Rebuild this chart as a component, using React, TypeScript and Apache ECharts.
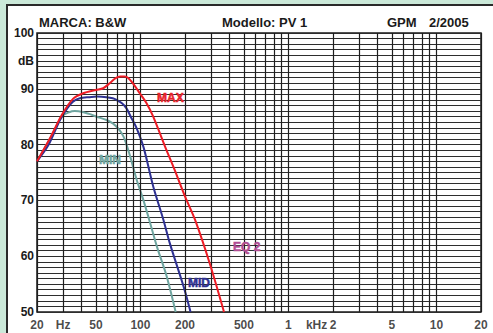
import React, { useEffect, useRef } from "react";
import * as echarts from "echarts";

// ---- data ----
const maxFreq = [20, 25, 29.4, 35, 41, 50, 56, 62, 68, 73, 78, 83, 90, 99, 110, 122, 150, 170, 200, 234, 294, 367];
const maxDb = [77, 81.6, 85.3, 88.2, 89.2, 89.8, 90.1, 91.0, 91.9, 92.2, 92.2, 91.9, 90.8, 89.2, 87.4, 85.0, 79.0, 75.5, 70.7, 66.5, 58.7, 50];

const midFreq = [20, 24, 28.6, 32, 35, 39, 45, 51, 59, 65, 69, 75, 80.5, 86, 94, 105, 122, 143, 158, 196, 218];
const midDb = [77, 80, 84.4, 86.5, 87.7, 88.3, 88.5, 88.6, 88.5, 88.3, 88.0, 87.4, 86.5, 85.0, 83.0, 79.5, 72.5, 66.5, 62.3, 54.5, 50];

const minFreq = [20, 25, 29.4, 33, 36, 40, 45, 50.6, 59, 65, 69, 74, 78.6, 85.4, 94.3, 104.6, 114.7, 130, 150, 173];
const minDb = [77, 81.5, 85.0, 85.8, 86.0, 85.9, 85.5, 85.0, 84.4, 83.8, 83.2, 82.2, 80.8, 77.8, 73.7, 70.1, 66.5, 61.5, 56.5, 50];

const gridFreqs = [
  20, 30, 40, 50, 60, 70, 80, 90, 100,
  200, 300, 400, 500, 600, 700, 800, 900, 1000,
  2000, 3000, 4000, 5000, 6000, 7000, 8000, 9000, 10000, 20000,
];
const xTickFreqs = [20, 30, 50, 100, 200, 500, 1000, 1550, 2000, 5000, 10000, 20000];
const xTickLabels = ["20", "Hz", "50", "100", "200", "500", "1", "kHz", "2", "5", "10", "20"];

const FONT = "'Liberation Sans', Arial, Helvetica, sans-serif";

const zip = (xs: number[], ys: number[]) => xs.map((x, i) => [x, ys[i]]);

export default function App() {
  const ref = useRef<HTMLDivElement>(null);
  useEffect(() => {
    const chart = echarts.init(ref.current!, undefined, { renderer: "svg" });
    const txt = (text: string, x: number, y: number, fill: string, size: number, align = "left", stroke = 0) => ({
      type: "text",
      x,
      y,
      z: 100,
      style: {
        text,
        fill,
        fontSize: size,
        fontWeight: "bold",
        fontFamily: FONT,
        textAlign: align,
        verticalAlign: "middle",
        stroke: stroke ? fill : undefined,
        lineWidth: stroke,
      },
    });
    chart.setOption({
      animation: false,
      backgroundColor: "#cbe9d9",
      graphic: [
        {
          type: "rect",
          z: -10,
          shape: { x: 7, y: 5, width: 540, height: 380 },
          style: { fill: "#ffffff", stroke: "#2a2a2a", lineWidth: 2 },
        },
        txt("MARCA: B&W", 39, 22, "#1a1a1a", 13),
        txt("Modello: PV 1", 222, 22, "#1a1a1a", 13),
        txt("GPM", 387, 22, "#1a1a1a", 13),
        txt("2/2005", 429, 22, "#1a1a1a", 13),
        txt("MAX", 157, 98, "#e8232a", 12, "left", 0.5),
        txt("MIN", 99, 160, "#6fa5a0", 12, "left", 0.5),
        txt("MID", 188, 283, "#2e3192", 12, "left", 0.5),
        txt("EQ 2", 233, 247, "#b14d93", 12, "left", 0.5),
      ],
      grid: {
        left: 37,
        top: 33,
        width: 444,
        height: 279,
        show: true,
        backgroundColor: "#ffffff",
        borderColor: "#1a1a1a",
        borderWidth: 1.5,
      },
      xAxis: {
        type: "log",
        logBase: 10,
        min: 20,
        max: 20000,
        axisLine: { show: false },
        axisTick: { show: false },
        axisLabel: { show: false },
        splitLine: { show: false },
      },
      yAxis: {
        type: "value",
        min: 50,
        max: 100,
        interval: 1,
        axisLine: { show: false },
        axisTick: { show: false },
        splitLine: { show: true, lineStyle: { color: "#2e2e2e", width: 1 } },
        axisLabel: {
          margin: 3,
          fontSize: 12,
          fontWeight: "bold",
          fontFamily: FONT,
          color: "#1a1a1a",
          formatter: (v: number) => (v % 10 === 0 ? String(v) : v === 95 ? "dB" : ""),
        },
      },
      series: [
        {
          type: "scatter",
          z: 1,
          clip: false,
          silent: true,
          symbolSize: 1,
          itemStyle: { color: "rgba(0,0,0,0)" },
          data: xTickFreqs.map((f) => [f, 50]),
          label: {
            show: true,
            position: "bottom",
            distance: 6,
            fontSize: 12,
            fontWeight: "bold",
            fontFamily: FONT,
            color: "#1a1a1a",
            formatter: (p: any) => xTickLabels[p.dataIndex],
          },
          markLine: {
            silent: true,
            symbol: ["none", "none"],
            label: { show: false },
            lineStyle: { color: "#1e1e1e", width: 1.2, type: "solid" },
            data: gridFreqs.map((f) => ({ xAxis: f })),
          },
        },
        {
          name: "MIN",
          type: "line",
          z: 3,
          smooth: 0.3,
          showSymbol: false,
          lineStyle: { color: "#6fa5a0", width: 2 },
          data: zip(minFreq, minDb),
        },
        {
          name: "MID",
          type: "line",
          z: 4,
          smooth: 0.3,
          showSymbol: false,
          lineStyle: { color: "#2e3192", width: 2 },
          data: zip(midFreq, midDb),
        },
        {
          name: "MAX",
          type: "line",
          z: 5,
          smooth: 0.3,
          showSymbol: false,
          lineStyle: { color: "#ee1c25", width: 2 },
          data: zip(maxFreq, maxDb),
        },
      ],
    });
    return () => chart.dispose();
  }, []);
  return (
    <div
      ref={ref}
      style={{ position: "fixed", left: 0, top: 0, width: 493, height: 333 }}
    />
  );
}
